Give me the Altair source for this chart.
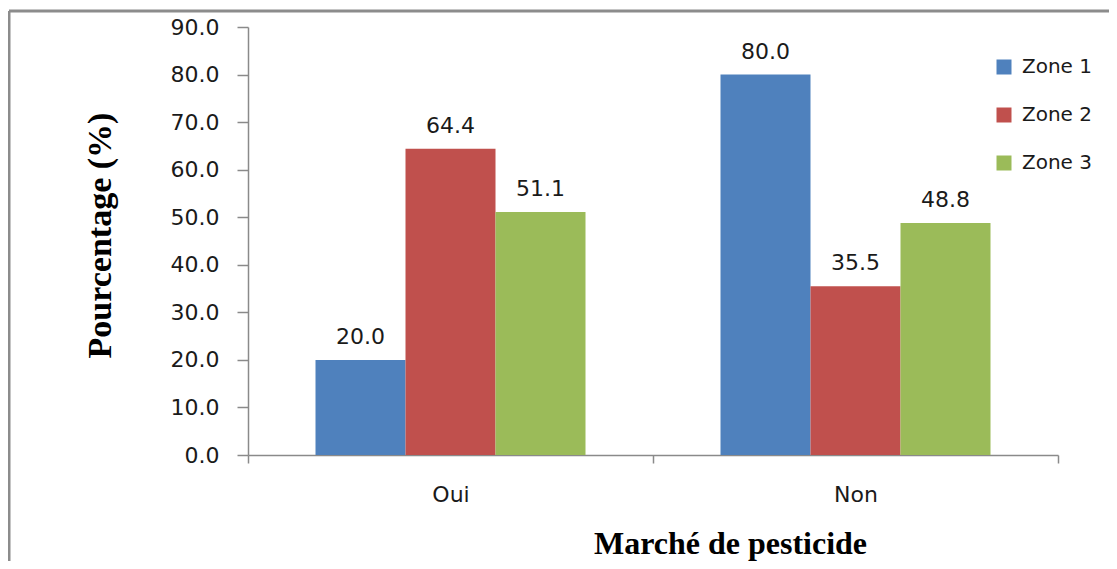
import altair as alt
import pandas as pd

categories = ["Oui", "Non"]
zones = ["Zone 1", "Zone 2", "Zone 3"]
zone1 = [20.0, 80.0]
zone2 = [64.4, 35.5]
zone3 = [51.1, 48.8]
colors = ["#4F81BD", "#C0504D", "#9BBB59"]
y_ticks = [0, 10, 20, 30, 40, 50, 60, 70, 80, 90]

rows = []
for zone, vals in zip(zones, [zone1, zone2, zone3]):
    for c, v in zip(categories, vals):
        rows.append({"cat": c, "zone": zone, "value": v})
df = pd.DataFrame(rows)

AX = "#8a8a8a"
TXT = "#1a1a1a"

base = alt.Chart(df).encode(
    x=alt.X(
        "cat:N",
        sort=categories,
        scale=alt.Scale(paddingInner=0, paddingOuter=0),
        axis=alt.Axis(
            title="Marché de pesticide",
            labelAngle=0,
            tickBand="extent",
            tickSize=8,
            labelPadding=21,
            labelFontSize=22,
            titleFont="Liberation Serif",
            titleFontSize=32,
            titleFontWeight="bold",
            titleX=482,
            titleY=98,
            titleBaseline="alphabetic",
            titleAlign="center",
        ),
    ),
    xOffset=alt.XOffset(
        "zone:N", sort=zones, scale=alt.Scale(paddingInner=0, paddingOuter=0.75)
    ),
    y=alt.Y(
        "value:Q",
        scale=alt.Scale(domain=[0, 90], nice=False, zero=True),
        axis=alt.Axis(
            title="Pourcentage (%)",
            values=y_ticks,
            format=".1f",
            grid=False,
            tickSize=11,
            labelPadding=18,
            labelFontSize=22,
            titleFont="Liberation Serif",
            titleFontSize=34,
            titleFontWeight="bold",
            titleX=-138,
            titleY=208,
            titleAngle=270,
            titleBaseline="alphabetic",
            titleAlign="center",
        ),
    ),
)

bars = base.mark_bar().encode(
    color=alt.Color(
        "zone:N",
        sort=zones,
        scale=alt.Scale(domain=zones, range=colors),
        legend=alt.Legend(
            title=None,
            orient="none",
            legendX=746,
            legendY=30,
            symbolType="square",
            symbolSize=225,
            symbolStrokeWidth=0,
            labelFontSize=20,
            labelFont="DejaVu Sans",
            labelColor=TXT,
            rowPadding=28,
            labelOffset=8,
            padding=0,
        ),
    )
)

labels = base.mark_text(
    dy=-16, baseline="alphabetic", fontSize=22, font="DejaVu Sans", color=TXT
).encode(text=alt.Text("value:Q", format=".1f"))

border_data = alt.Data(values=[{"a": 1}])
left_border = alt.Chart(border_data).mark_rule(color="#8c8c8c", strokeWidth=3).encode(
    x=alt.value(-239), y=alt.value(-16), y2=alt.value(600)
)
top_border = alt.Chart(border_data).mark_rule(color="#8c8c8c", strokeWidth=3).encode(
    x=alt.value(-239), x2=alt.value(900), y=alt.value(-16)
)

chart = (
    alt.layer(left_border, top_border, bars, labels)
    .properties(
        width=810,
        height=428,
        padding={"left": 240, "top": 19, "right": 51, "bottom": 106},
        autosize=alt.AutoSizeParams(type="none"),
        background="white",
    )
    .configure_view(stroke=None)
    .configure_axis(
        domainColor=AX,
        tickColor=AX,
        domainWidth=1.5,
        tickWidth=1.5,
        labelFont="DejaVu Sans",
        labelColor=TXT,
        titleColor="#000000",
    )
)

chart.save("out.html", embed_options={"renderer": "svg", "actions": False})
